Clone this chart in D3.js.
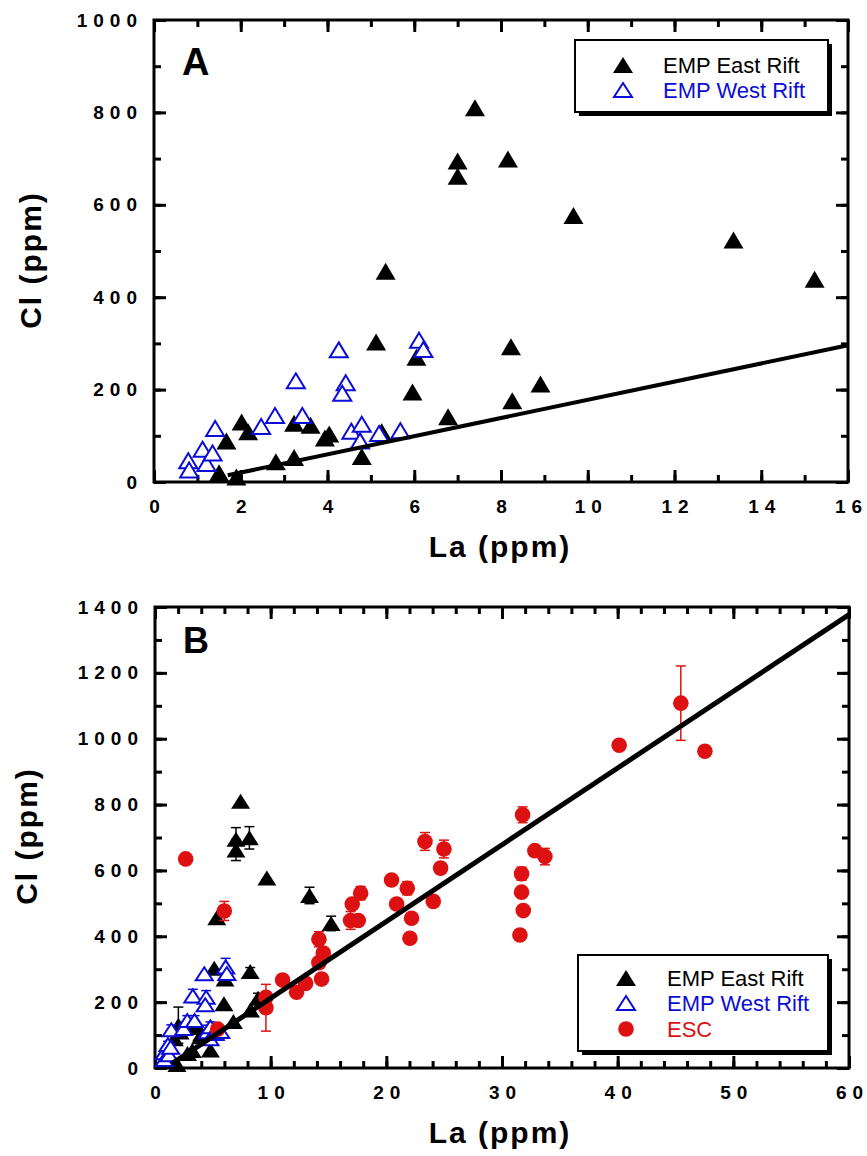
<!DOCTYPE html>
<html lang="en">
<head>
<meta charset="UTF-8">
<title>Cl vs La</title>
<script src="https://d3js.org/d3.v7.min.js"></script>
<style>
    body { margin: 0; padding: 0; background: #fff; }
    svg { display: block; }
    .tick text { font-family: "Liberation Sans", Arial, sans-serif; font-weight: bold; font-size: 19px; fill: #000; }
    .title { font-family: "Liberation Sans", Arial, sans-serif; font-weight: bold; font-size: 30px; letter-spacing: 2px; }
    .leg { font-family: "Liberation Sans", Arial, sans-serif; font-size: 22px; }
</style>
</head>
<body>
<svg id="chart"></svg>
<script>
    const width = 867, height = 1156;
    const blue = "#0c0cd8", red = "#dd1111";

    // EMP East Rift (filled black triangles)
    const eastLa = [7.40, 7.00, 7.00, 8.16, 9.67, 13.36, 15.23, 5.34, 5.12, 6.05, 5.96, 6.78, 8.23, 8.26, 8.91,
                    1.50, 1.90, 1.67, 2.02, 2.17, 2.81, 3.23, 3.23, 3.61, 3.94, 4.04, 4.79, 5.25];
    const eastCl = [810, 695, 662, 699, 577, 524, 439, 456, 303, 270, 195, 141, 293, 176, 212,
                    20, 11, 89, 130, 109, 44, 53, 127, 123, 95, 104, 55, 109];
    const eastErr = [0, 35, 32, 34, 0, 25, 22, 0, 0, 0, 0, 0, 12, 0, 15,
                     0, 0, 0, 55, 0, 0, 0, 0, 0, 0, 0, 0, 0];

    // EMP West Rift (open blue triangles)
    const westLa = [0.79, 0.81, 1.12, 1.21, 1.35, 1.41, 2.47, 2.79, 3.27, 3.42, 4.26, 4.42, 4.34, 4.55,
                    4.79, 4.75, 5.19, 5.68, 6.11, 6.21];
    const westCl = [46, 26, 71, 40, 63, 116, 120, 144, 219, 144, 286, 215, 192, 110,
                    125, 89, 105, 111, 307, 287];
    const westErr = [0, 0, 10, 0, 10, 15, 15, 15, 20, 15, 0, 20, 15, 20,
                     15, 10, 15, 15, 26, 15];

    // ESC (red circles, panel B only)
    const escLa = [2.65, 5.99, 5.42, 9.59, 9.59, 11.03, 12.24, 13.02, 14.40, 14.17, 14.55, 14.17, 16.91, 17.57,
                   17.05, 17.78, 20.45, 20.89, 21.81, 22.18, 22.04, 23.34, 24.98, 24.69, 24.06, 32.84, 33.71,
                   31.69, 31.69, 31.84, 31.55, 31.78, 40.13, 45.46, 47.54];
    const escCl = [635, 477, 118, 215, 183, 267, 230, 257, 270, 391, 349, 320, 448, 448,
                   498, 531, 571, 498, 546, 455, 394, 688, 665, 607, 506, 660, 642,
                   590, 534, 478, 404, 769, 980, 1108, 962];
    const escErr = [0, 29, 0, 0, 71, 0, 0, 0, 0, 23, 15, 0, 27, 0,
                    0, 20, 0, 0, 20, 0, 0, 27, 27, 0, 0, 0, 25,
                    20, 0, 0, 0, 24, 0, 113, 15];

    // regression lines
    const lineALa = [1.7, 16], lineACl = [14.5, 296];
    const lineBLa = [1.5, 60], lineBCl = [14, 1377];

    // axis ticks
    const xTicksA = d3.range(0, 17, 2), xMinorA = d3.range(0, 17, 1);
    const yTicksA = d3.range(0, 1001, 200), yMinorA = d3.range(0, 1001, 100);
    const xTicksB = d3.range(0, 61, 10), xMinorB = d3.range(0, 61, 2);
    const yTicksB = d3.range(0, 1401, 200), yMinorB = d3.range(0, 1401, 100);

    const svg = d3.select("#chart").attr("width", width).attr("height", height);

    const tri = (hw, hh) => `M0,${-hh}L${hw},${hh}L${-hw},${hh}Z`;

    // spread digits apart without trailing space (tracked tick labels)
    function spread(sel, gap) {
        sel.each(function() {
            const t = d3.select(this), s = t.text();
            t.text(null);
            s.split("").forEach((c, i) => t.append("tspan").attr("dx", i ? gap : 0).text(c));
        });
    }

    function panel(p) {
        const g = svg.append("g");
        const [x0, x1] = p.x.range(), [y0, y1] = p.y.range();
        const gap = 6;

        // minor ticks, all sides
        [[d3.axisBottom(p.x).tickValues(p.xMinor), y0], [d3.axisTop(p.x).tickValues(p.xMinor), y1]]
            .forEach(([ax, ty]) => g.append("g").attr("transform", `translate(0,${ty})`)
            .call(ax.tickSize(-7).tickFormat("")).call(s => s.select(".domain").remove()));
        [[d3.axisLeft(p.y).tickValues(p.yMinor), x0], [d3.axisRight(p.y).tickValues(p.yMinor), x1]]
            .forEach(([ax, tx]) => g.append("g").attr("transform", `translate(${tx},0)`)
            .call(ax.tickSize(-7).tickFormat("")).call(s => s.select(".domain").remove()));

        // major ticks with labels
        g.append("g").attr("transform", `translate(0,${y0})`)
            .call(d3.axisBottom(p.x).tickValues(p.xTicks).tickSize(-12).tickPadding(18).tickFormat(d3.format("d")))
            .call(s => s.select(".domain").remove())
            .selectAll("text").call(spread, gap);
        g.append("g").attr("transform", `translate(0,${y1})`)
            .call(d3.axisTop(p.x).tickValues(p.xTicks).tickSize(-12).tickFormat(""))
            .call(s => s.select(".domain").remove());
        g.append("g").attr("transform", `translate(${x0},0)`)
            .call(d3.axisLeft(p.y).tickValues(p.yTicks).tickSize(-12).tickPadding(17).tickFormat(d3.format("d")))
            .call(s => s.select(".domain").remove())
            .selectAll("text").call(spread, gap);
        g.append("g").attr("transform", `translate(${x1},0)`)
            .call(d3.axisRight(p.y).tickValues(p.yTicks).tickSize(-12).tickFormat(""))
            .call(s => s.select(".domain").remove());
        g.selectAll(".tick line").attr("stroke", "#000").attr("stroke-width", 3);

        // frame
        g.append("rect").attr("x", x0).attr("y", y1).attr("width", x1 - x0).attr("height", y0 - y1)
            .attr("fill", "none").attr("stroke", "#000").attr("stroke-width", 3);

        // axis titles
        g.append("text").attr("class", "title").attr("text-anchor", "middle")
            .attr("x", 500).attr("y", y0 + 75).text("La (ppm)");
        g.append("text").attr("class", "title").attr("text-anchor", "middle")
            .attr("transform", `translate(${p.yTitleX},${p.yTitleY}) rotate(-90)`).text("Cl (ppm)");

        // panel letter
        g.append("text").attr("x", x0 + 28).attr("y", y1 + p.letterDy)
            .attr("font-family", "Liberation Sans, Arial, sans-serif").attr("font-weight", "bold")
            .attr("font-size", p.letterSize).text(p.letter);

        const east = eastLa.map((v, i) => ({ la: v, cl: eastCl[i], e: eastErr[i] }));
        const west = westLa.map((v, i) => ({ la: v, cl: westCl[i], e: westErr[i] }));
        const esc = escLa.map((v, i) => ({ la: v, cl: escCl[i], e: escErr[i] }));

        function errBars(data, color) {
            const eb = g.append("g").attr("stroke", color).attr("stroke-width", 1.5);
            data.filter(d => d.e > 0).forEach(d => {
                const cx = p.x(d.la), ya = p.y(d.cl + d.e), yb = p.y(d.cl - d.e);
                eb.append("line").attr("x1", cx).attr("x2", cx).attr("y1", ya).attr("y2", yb);
                eb.append("line").attr("x1", cx - 5).attr("x2", cx + 5).attr("y1", ya).attr("y2", ya);
                eb.append("line").attr("x1", cx - 5).attr("x2", cx + 5).attr("y1", yb).attr("y2", yb);
            });
        }

        if (p.err) errBars(east, "#000");
        g.append("g").selectAll("path").data(east).join("path")
            .attr("transform", d => `translate(${p.x(d.la)},${p.y(d.cl)})`)
            .attr("d", tri(p.hw, p.hh)).attr("fill", "#000");

        if (p.err) errBars(west, blue);
        g.append("g").selectAll("path").data(west).join("path")
            .attr("transform", d => `translate(${p.x(d.la)},${p.y(d.cl)})`)
            .attr("d", tri(p.hw - 1, p.hh - 1)).attr("fill", "#fff").attr("stroke", blue).attr("stroke-width", 2);

        if (p.esc) {
            errBars(esc, red);
            g.append("g").selectAll("circle").data(esc).join("circle")
                .attr("cx", d => p.x(d.la)).attr("cy", d => p.y(d.cl)).attr("r", 7.8).attr("fill", red);
        }

        // regression line
        g.append("line")
            .attr("x1", p.x(p.lineLa[0])).attr("y1", p.y(p.lineCl[0]))
            .attr("x2", p.x(p.lineLa[1])).attr("y2", p.y(p.lineCl[1]))
            .attr("stroke", "#000").attr("stroke-width", p.lineW);

        // legend
        const lg = g.append("g");
        const [lx, ly, lw, lh] = p.leg;
        lg.append("rect").attr("x", lx + 4).attr("y", ly + 4).attr("width", lw).attr("height", lh).attr("fill", "#000");
        lg.append("rect").attr("x", lx).attr("y", ly).attr("width", lw).attr("height", lh)
            .attr("fill", "#fff").attr("stroke", "#000").attr("stroke-width", 2);
        p.legItems.forEach((it, i) => {
            const cy = p.legY[i];
            if (it.sym === "fill") lg.append("path").attr("transform", `translate(${p.legMx},${cy})`)
                .attr("d", tri(10, 8)).attr("fill", "#000");
            if (it.sym === "open") lg.append("path").attr("transform", `translate(${p.legMx},${cy})`)
                .attr("d", tri(9, 7)).attr("fill", "#fff").attr("stroke", blue).attr("stroke-width", 2);
            if (it.sym === "dot") lg.append("circle").attr("cx", p.legMx).attr("cy", cy).attr("r", 7.8).attr("fill", red);
            lg.append("text").attr("class", "leg").attr("x", p.legTx).attr("y", cy + 8)
                .attr("fill", it.color).text(it.label);
        });
    }

    panel({
        x: d3.scaleLinear([0, 16], [154, 848]),
        y: d3.scaleLinear([0, 1000], [482, 20]),
        xTicks: xTicksA, xMinor: xMinorA, yTicks: yTicksA, yMinor: yMinorA,
        yTitleX: 41, yTitleY: 260, letter: "A", letterSize: 38, letterDy: 55,
        hw: 10, hh: 8.5, err: false, esc: false,
        lineLa: lineALa, lineCl: lineACl, lineW: 4,
        leg: [575, 40, 253, 72], legMx: 623, legTx: 663, legY: [65, 90],
        legItems: [
            { sym: "fill", label: "EMP East Rift", color: "#000" },
            { sym: "open", label: "EMP West Rift", color: blue }
        ]
    });

    panel({
        x: d3.scaleLinear([0, 60], [155, 849]),
        y: d3.scaleLinear([0, 1400], [1068, 607]),
        xTicks: xTicksB, xMinor: xMinorB, yTicks: yTicksB, yMinor: yMinorB,
        yTitleX: 37, yTitleY: 836, letter: "B", letterSize: 36, letterDy: 46,
        hw: 9.5, hh: 7.5, err: true, esc: true,
        lineLa: lineBLa, lineCl: lineBCl, lineW: 5,
        leg: [578, 955, 250, 96], legMx: 626, legTx: 667, legY: [978, 1003, 1029],
        legItems: [
            { sym: "fill", label: "EMP East Rift", color: "#000" },
            { sym: "open", label: "EMP West Rift", color: blue },
            { sym: "dot", label: "ESC", color: red }
        ]
    });
</script>
</body>
</html>
